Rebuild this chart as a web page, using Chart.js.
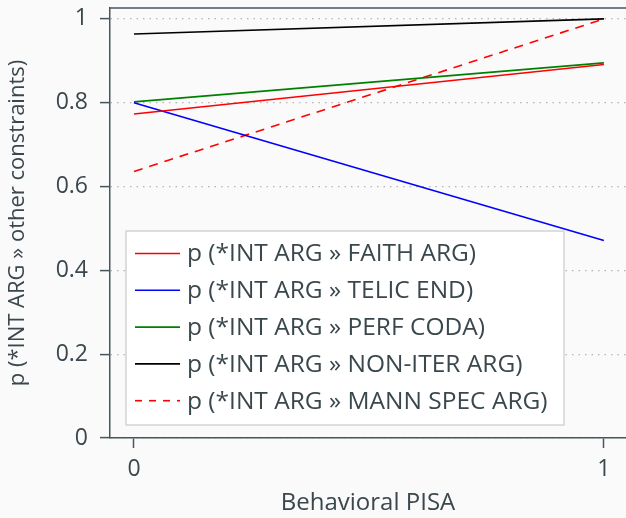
<!DOCTYPE html>
<html>
<head>
<meta charset="utf-8">
<script src="https://cdn.jsdelivr.net/npm/chart.js@4.4.0/dist/chart.umd.min.js"></script>
<style>
  html, body { margin: 0; padding: 0; background: #fafafa; }
  canvas { display: block; }
</style>
</head>
<body>
<canvas id="pisaChart" width="626" height="518"></canvas>
<script>
// values
const xValues = [0, 1];
const faithArg = [0.773, 0.891];
const telicEnd = [0.800, 0.471];
const perfCoda = [0.802, 0.895];
const nonIterArg = [0.964, 1.0];
const mannSpecArg = [0.636, 1.0];

const seriesLabels = [
    'p (*INT ARG » FAITH ARG)',
    'p (*INT ARG » TELIC END)',
    'p (*INT ARG » PERF CODA)',
    'p (*INT ARG » NON-ITER ARG)',
    'p (*INT ARG » MANN SPEC ARG)'
];
const yTickValues = [0, 0.2, 0.4, 0.6, 0.8, 1];
const xTickValues = [0, 1];

const textColor = '#3a484d';
const axisColor = '#46565c';
const fontFamily = "'Open Sans', 'Noto Sans', sans-serif";

function toPoints(values) {
    return xValues.map(function(x, i) { return { x: x, y: values[i] }; });
}

function lineSet(label, values, color, dash) {
    return {
        label: label,
        data: toPoints(values),
        borderColor: color,
        backgroundColor: color,
        borderWidth: 1.6,
        borderDash: dash || [],
        pointRadius: 0,
        tension: 0,
        fill: false
    };
}

// legend box drawn inside the plot area, lower left
const insideLegend = {
    id: 'insideLegend',
    afterDraw: function(chart) {
        const ctx = chart.ctx;
        const area = chart.chartArea;
        const box = { x: area.left + 16, y: 231, w: 438, h: 194 };
        ctx.save();
        ctx.fillStyle = '#ffffff';
        ctx.fillRect(box.x, box.y, box.w, box.h);
        ctx.strokeStyle = '#d4d4d4';
        ctx.lineWidth = 1.5;
        ctx.strokeRect(box.x, box.y, box.w, box.h);

        ctx.font = '400 24.5px ' + fontFamily;
        ctx.textBaseline = 'middle';
        ctx.textAlign = 'left';
        chart.data.datasets.forEach(function(ds, i) {
            const rowY = box.y + 22.5 + i * 36.8;
            ctx.beginPath();
            ctx.strokeStyle = ds.borderColor;
            ctx.lineWidth = 1.6;
            ctx.setLineDash(ds.borderDash.length ? [7, 7] : []);
            ctx.moveTo(box.x + 9, rowY);
            ctx.lineTo(box.x + 54, rowY);
            ctx.stroke();
            ctx.setLineDash([]);
            ctx.fillStyle = textColor;
            ctx.fillText(ds.label, box.x + 61, rowY + 1);
        });

        // top frame line
        ctx.beginPath();
        ctx.strokeStyle = axisColor;
        ctx.lineWidth = 1.5;
        ctx.moveTo(area.left, area.top);
        ctx.lineTo(area.right, area.top);
        ctx.stroke();
        ctx.restore();
    }
};

const ctx = document.getElementById('pisaChart').getContext('2d');
new Chart(ctx, {
    type: 'line',
    data: {
        datasets: [
            lineSet(seriesLabels[0], faithArg, '#ff0000'),
            lineSet(seriesLabels[1], telicEnd, '#0000ff'),
            lineSet(seriesLabels[2], perfCoda, '#008000'),
            lineSet(seriesLabels[3], nonIterArg, '#000000'),
            lineSet(seriesLabels[4], mannSpecArg, '#ff0000', [9, 7])
        ]
    },
    options: {
        responsive: false,
        animation: false,
        layout: { padding: { top: 8, right: 0, left: 0, bottom: 0 } },
        plugins: {
            legend: { display: false },
            tooltip: { enabled: false }
        },
        scales: {
            x: {
                type: 'linear',
                min: -0.051,
                max: 1.047,
                afterFit: function(scale) {
                    scale.height = 80;
                    scale.paddingLeft = 0;
                    scale.paddingRight = 0;
                },
                afterBuildTicks: function(scale) {
                    scale.ticks = xTickValues.map(function(v) { return { value: v }; });
                },
                ticks: {
                    color: textColor,
                    padding: 8,
                    maxRotation: 0,
                    font: { family: fontFamily, size: 23, weight: '400' },
                    callback: function(value) { return String(value); }
                },
                grid: {
                    drawOnChartArea: false,
                    drawTicks: true,
                    tickLength: 10,
                    tickColor: axisColor,
                    tickWidth: 1.5
                },
                border: { color: axisColor, width: 1.5 },
                title: {
                    display: true,
                    text: 'Behavioral PISA',
                    color: textColor,
                    padding: { top: 0, bottom: 0 },
                    font: { family: fontFamily, size: 24, weight: '400' }
                }
            },
            y: {
                min: 0,
                max: 1.026,
                afterFit: function(scale) {
                    scale.width = 110;
                    scale.paddingTop = 0;
                    scale.paddingBottom = 0;
                },
                afterBuildTicks: function(scale) {
                    scale.ticks = yTickValues.map(function(v) { return { value: v }; });
                },
                ticks: {
                    color: textColor,
                    padding: 12,
                    font: { family: fontFamily, size: 23, weight: '400' },
                    callback: function(value) { return String(value); }
                },
                grid: {
                    color: '#b4b4b4',
                    lineWidth: 1.2,
                    tickLength: 10,
                    tickColor: axisColor,
                    tickWidth: 1.5,
                    tickBorderDash: []
                },
                border: { color: axisColor, width: 1.5, dash: [1.5, 5] },
                title: {
                    display: true,
                    text: 'p (*INT ARG » other constraints)',
                    color: textColor,
                    padding: { top: 5, bottom: 0 },
                    font: { family: fontFamily, size: 22, weight: '400' }
                }
            }
        }
    },
    plugins: [insideLegend]
});
</script>
</body>
</html>
